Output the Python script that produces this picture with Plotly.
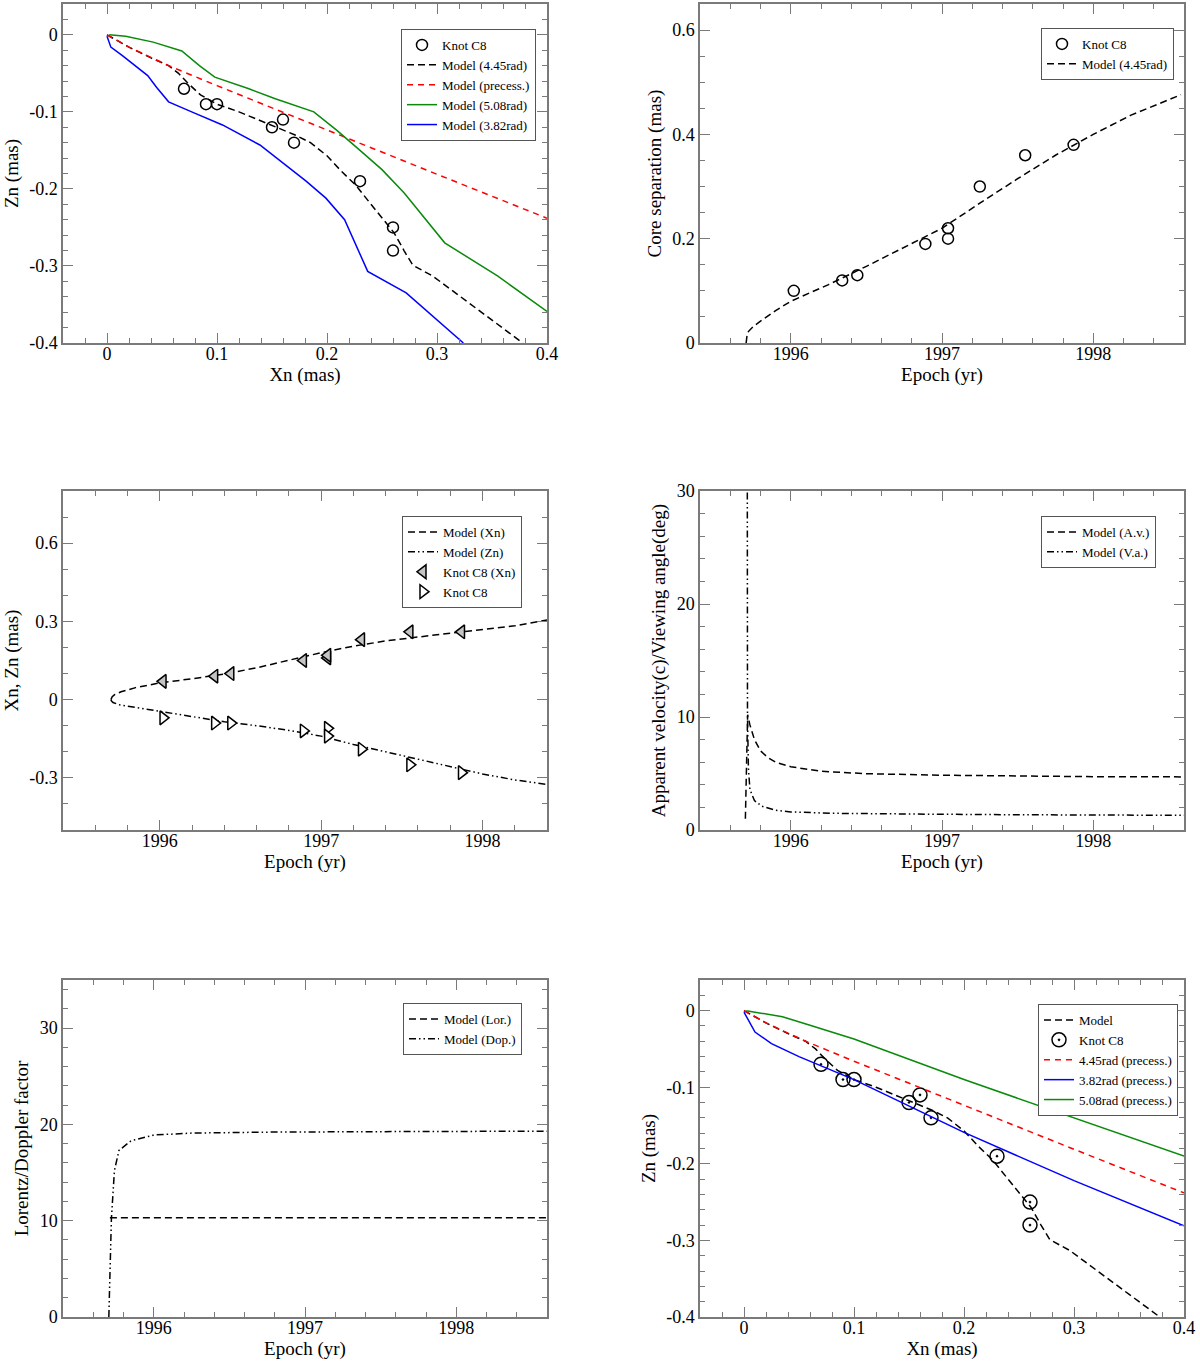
import plotly.graph_objects as go

# ---------------- data ----------------
# Knot C8 observations
knot_epoch = [1996.02, 1996.34, 1996.44, 1996.89, 1997.04, 1997.04, 1997.25, 1997.55, 1997.87]
knot_xn = [0.07, 0.09, 0.10, 0.15, 0.16, 0.17, 0.23, 0.26, 0.26]
knot_zn = [-0.07, -0.09, -0.09, -0.12, -0.11, -0.14, -0.19, -0.25, -0.28]
knot_sep = [0.10, 0.12, 0.13, 0.19, 0.20, 0.22, 0.30, 0.36, 0.38]

# Model (4.45rad) track
m445_x = [0, 0.02, 0.04, 0.056, 0.065, 0.073, 0.085, 0.10, 0.12, 0.146, 0.171, 0.185,
          0.20, 0.213, 0.226, 0.244, 0.261, 0.27, 0.278, 0.296, 0.321, 0.35, 0.378]
m445_z = [0, -0.016, -0.03, -0.040, -0.05, -0.062, -0.078, -0.09, -0.10, -0.115, -0.13, -0.14,
          -0.157, -0.177, -0.195, -0.227, -0.257, -0.28, -0.299, -0.313, -0.3395, -0.37, -0.40]

# Model (precess.) / 4.45rad (precess.)
prec445_x = [0, 0.01, 0.02, 0.035, 0.056, 0.10, 0.20, 0.30, 0.40]
prec445_z = [0, -0.008, -0.016, -0.026, -0.040, -0.066, -0.124, -0.181, -0.238]

# Model (5.08rad)
m508_x = [0.002, 0.017, 0.042, 0.068, 0.084, 0.098, 0.129, 0.153, 0.188, 0.209, 0.23,
          0.25, 0.27, 0.29, 0.307, 0.355, 0.40]
m508_z = [0, -0.002, -0.0095, -0.021, -0.040, -0.055, -0.070, -0.083, -0.100, -0.124, -0.15,
          -0.175, -0.205, -0.24, -0.27, -0.313, -0.359]

# Model (3.82rad)
m382_x = [0, 0.0035, 0.014, 0.037, 0.045, 0.056, 0.077, 0.105, 0.139, 0.16, 0.181, 0.199,
          0.216, 0.237, 0.272, 0.324]
m382_z = [-0.002, -0.016, -0.027, -0.053, -0.068, -0.087, -0.10, -0.117, -0.143, -0.167,
          -0.19, -0.212, -0.24, -0.307, -0.335, -0.40]

# 5.08rad (precess.) and 3.82rad (precess.)
prec508_x = [0.002, 0.02, 0.035, 0.06, 0.10, 0.20, 0.30, 0.40]
prec508_z = [0, -0.004, -0.008, -0.019, -0.037, -0.09, -0.14, -0.19]
prec382_x = [0, 0.01, 0.025, 0.05, 0.10, 0.20, 0.30, 0.40]
prec382_z = [-0.002, -0.028, -0.043, -0.06, -0.09, -0.159, -0.222, -0.281]

# Core separation model
sep_t = [1995.705, 1995.71, 1995.72, 1995.75, 1995.8, 1995.9, 1996.0, 1996.25, 1996.5,
         1996.75, 1997.0, 1997.25, 1997.5, 1997.75, 1998.0, 1998.25, 1998.58]
sep_r = [0.0, 0.012, 0.022, 0.031, 0.042, 0.062, 0.08, 0.112, 0.147, 0.183, 0.22,
         0.268, 0.315, 0.36, 0.40, 0.437, 0.476]

# Xn, Zn vs epoch model
xn_t = [1995.697, 1995.699, 1995.705, 1995.72, 1995.76, 1995.85, 1996.0, 1996.2, 1996.4,
        1996.6, 1996.8, 1997.0, 1997.2, 1997.4, 1997.6, 1997.8, 1998.0, 1998.2, 1998.4]
xn_v = [0.0, 0.006, 0.011, 0.019, 0.03, 0.046, 0.064, 0.08, 0.098, 0.122, 0.15, 0.18,
        0.205, 0.225, 0.24, 0.255, 0.268, 0.283, 0.305]
zn_t = [1995.697, 1995.701, 1995.71, 1995.75, 1995.85, 1996.0, 1996.2, 1996.4, 1996.6,
        1996.8, 1997.0, 1997.2, 1997.4, 1997.6, 1997.8, 1998.0, 1998.2, 1998.4]
zn_v = [0.0, -0.006, -0.011, -0.02, -0.03, -0.045, -0.065, -0.085, -0.10, -0.118, -0.14,
        -0.172, -0.20, -0.228, -0.258, -0.285, -0.308, -0.325]

# Apparent velocity / viewing angle
av_t = [1995.70, 1995.705, 1995.71, 1995.715, 1995.73, 1995.76, 1995.8, 1995.85, 1995.9,
        1996.0, 1996.2, 1996.5, 1997.0, 1997.5, 1998.0, 1998.6]
av_v = [1.0, 5.0, 9.8, 10.2, 9.3, 8.0, 7.0, 6.4, 6.0, 5.6, 5.2, 4.98, 4.85, 4.77, 4.72, 4.7]
va_t = [1995.712, 1995.714, 1995.72, 1995.73, 1995.76, 1995.81, 1995.9, 1996.0, 1996.26,
        1996.5, 1997.0, 1997.5, 1998.0, 1998.6]
va_v = [45, 10, 5.5, 3.6, 2.6, 2.1, 1.75, 1.6, 1.48, 1.44, 1.39, 1.35, 1.32, 1.3]

# Lorentz / Doppler factor
lor_t = [1995.71, 1996.0, 1997.0, 1998.0, 1998.6]
lor_v = [10.3, 10.3, 10.3, 10.3, 10.3]
dop_t = [1995.703, 1995.71, 1995.72, 1995.74, 1995.77, 1995.85, 1996.0, 1996.25, 1996.75,
         1997.5, 1998.6]
dop_v = [0.0, 5.0, 10.2, 15.2, 17.3, 18.3, 18.9, 19.1, 19.2, 19.25, 19.3]

# tick labels
mas_vals = [0, 0.1, 0.2, 0.3, 0.4]
mas_text = ["0", "0.1", "0.2", "0.3", "0.4"]
zn_vals = [0, -0.1, -0.2, -0.3, -0.4]
zn_text = ["0", "-0.1", "-0.2", "-0.3", "-0.4"]
yr_vals = [1996, 1997, 1998]
yr_text = ["1996", "1997", "1998"]
sep_vals = [0, 0.2, 0.4, 0.6]
sep_text = ["0", "0.2", "0.4", "0.6"]
xz_vals = [-0.3, 0, 0.3, 0.6]
xz_text = ["-0.3", "0", "0.3", "0.6"]
ten_vals = [0, 10, 20, 30]
ten_text = ["0", "10", "20", "30"]

# ---------------- style ----------------
FONT = "Liberation Serif"
AX = "#7a7a7a"
GREEN = "#0a8a0a"
BLUE = "#0000ff"
RED = "#ff0000"
DASH = "7px,4px"
DDD = "7px,3px,1.5px,3px,1.5px,3px"

fig = go.Figure()


def line(x, y, name, color, dash, ax, leg, width=1.5):
    fig.add_trace(go.Scatter(x=x, y=y, mode="lines", name=name,
                             line=dict(color=color, dash=dash, width=width),
                             xaxis="x" + ax, yaxis="y" + ax, legend=leg))


def pts(x, y, name, symbol, size, ax, leg, fill="white"):
    fig.add_trace(go.Scatter(x=x, y=y, mode="markers", name=name,
                             marker=dict(symbol=symbol, size=size, color=fill,
                                         line=dict(color="black", width=1.5)),
                             xaxis="x" + ax, yaxis="y" + ax, legend=leg))


# Panel 1
pts(knot_xn, knot_zn, "Knot C8", "circle-open", 11, "", "legend", fill="black")
line(m445_x, m445_z, "Model (4.45rad)", "black", DASH, "", "legend")
line(prec445_x, prec445_z, "Model (precess.)", RED, "6px,5px", "", "legend")
line(m508_x, m508_z, "Model (5.08rad)", GREEN, "solid", "", "legend")
line(m382_x, m382_z, "Model (3.82rad)", BLUE, "solid", "", "legend")

# Panel 2
pts(knot_epoch, knot_sep, "Knot C8", "circle-open", 11, "2", "legend2", fill="black")
line(sep_t, sep_r, "Model (4.45rad)", "black", DASH, "2", "legend2")

# Panel 3
line(xn_t, xn_v, "Model (Xn)", "black", DASH, "3", "legend3")
line(zn_t, zn_v, "Model (Zn)", "black", DDD, "3", "legend3")
pts(knot_epoch, knot_xn, "Knot C8 (Xn)", "triangle-left", 12, "3", "legend3", fill="#c4c4c4")
pts(knot_epoch, knot_zn, "Knot C8", "triangle-right", 12, "3", "legend3", fill="white")

# Panel 4
line(av_t, av_v, "Model (A.v.)", "black", DASH, "4", "legend4")
line(va_t, va_v, "Model (V.a.)", "black", DDD, "4", "legend4")

# Panel 5
line(lor_t, lor_v, "Model (Lor.)", "black", DASH, "5", "legend5")
line(dop_t, dop_v, "Model (Dop.)", "black", DDD, "5", "legend5")

# Panel 6
line(m445_x, m445_z, "Model", "black", DASH, "6", "legend6")
pts(knot_xn, knot_zn, "Knot C8", "circle-open-dot", 14, "6", "legend6", fill="black")
line(prec445_x, prec445_z, "4.45rad (precess.)", RED, "6px,5px", "6", "legend6")
line(prec382_x, prec382_z, "3.82rad (precess.)", BLUE, "solid", "6", "legend6")
line(prec508_x, prec508_z, "5.08rad (precess.)", GREEN, "solid", "6", "legend6")

W, H = 1200, 1364
cols = [(63, 547), (700, 1184)]
rows = [(4, 343), (491, 830), (980, 1317)]


def dom_x(c):
    return [cols[c][0] / W, cols[c][1] / W]


def dom_y(r):
    return [1 - rows[r][1] / H, 1 - rows[r][0] / H]


def axis(rng, vals, text, mdt, m0, title, domain, anchor, standoff, lblshift):
    return dict(
        domain=domain, anchor=anchor, range=rng, tickmode="array", tickvals=vals,
        ticktext=text, ticks="inside", ticklen=10, tickwidth=1.2, tickcolor=AX,
        showline=True, linecolor=AX, linewidth=1.5, mirror="ticks", showgrid=False,
        zeroline=False, automargin=False, ticklabelstandoff=lblshift,
        tickfont=dict(family=FONT, size=18, color="black"),
        minor=dict(ticks="inside", ticklen=5, tickwidth=1.2, tickcolor=AX,
                   tickmode="linear", dtick=mdt, tick0=m0, showgrid=False),
        title=dict(text=title, font=dict(family=FONT, size=19, color="black"),
                   standoff=standoff),
    )


lay = {}
specs = [
    # (xrange, xvals, xtext, xminor, yrange, yvals, ytext, yminor, xtitle, ytitle, col, row)
    ([-0.04, 0.4], mas_vals, mas_text, 0.02, [-0.4, 0.04], zn_vals, zn_text, 0.02,
     "Xn (mas)", "Zn (mas)", 0, 0),
    ([1995.4, 1998.6], yr_vals, yr_text, 0.2, [0, 0.65], sep_vals, sep_text, 0.05,
     "Epoch (yr)", "Core separation (mas)", 1, 0),
    ([1995.4, 1998.4], yr_vals, yr_text, 0.2, [-0.5, 0.8], xz_vals, xz_text, 0.1,
     "Epoch (yr)", "Xn, Zn (mas)", 0, 1),
    ([1995.4, 1998.6], yr_vals, yr_text, 0.2, [0, 30], ten_vals, ten_text, 2,
     "Epoch (yr)", "Apparent velocity(c)/Viewing angle(deg)", 1, 1),
    ([1995.4, 1998.6], yr_vals, yr_text, 0.2, [0, 35], ten_vals, ten_text, 2,
     "Epoch (yr)", "Lorentz/Doppler factor", 0, 2),
    ([-0.04, 0.4], mas_vals, mas_text, 0.02, [-0.4, 0.04], zn_vals, zn_text, 0.02,
     "Xn (mas)", "Zn (mas)", 1, 2),
]
for i, s in enumerate(specs):
    sfx = "" if i == 0 else str(i + 1)
    xr, xv, xt, xm, yr, yv, yt, ym, xtit, ytit, c, r = s
    lay["xaxis" + sfx] = axis(xr, xv, xt, xm, 0, xtit, dom_x(c), "y" + sfx, 2, -6)
    lay["yaxis" + sfx] = axis(yr, yv, yt, ym, 0, ytit, dom_y(r), "x" + sfx, 6, 0)

legpos = {
    "legend": (401, 29), "legend2": (1041, 28), "legend3": (402, 516),
    "legend4": (1041, 516), "legend5": (403, 1003), "legend6": (1038, 1004),
}
for k, (px, py) in legpos.items():
    lay[k] = dict(x=px / W, y=1 - py / H, xanchor="left", yanchor="top",
                  bgcolor="white", bordercolor="#555555", borderwidth=1,
                  font=dict(family=FONT, size=13, color="black"),
                  itemwidth=30, tracegroupgap=0)

fig.update_layout(width=W, height=H, margin=dict(l=0, r=0, t=0, b=0),
                  paper_bgcolor="white", plot_bgcolor="white",
                  font=dict(family=FONT, color="black"), showlegend=True, **lay)

fig.write_html("out.html", config={"displayModeBar": False},
               post_script="document.body.style.margin='0';")
